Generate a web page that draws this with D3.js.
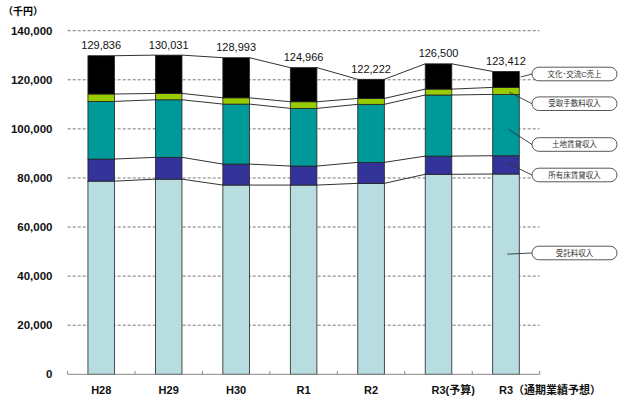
<!DOCTYPE html>
<html>
<head>
<meta charset="utf-8">
<script src="https://cdn.jsdelivr.net/npm/d3@7"></script>
<style>
  body { margin: 0; background: #fff; }
  svg { display: block; font-family: "Liberation Sans", Arial, "Noto Sans CJK JP", sans-serif; }
</style>
</head>
<body>
<div id="chart"></div>
<script>
// categories and values (千円)
const categories = ["H28", "H29", "H30", "R1", "R2", "R3(予算)", "R3（通期業績予想）"];
const totalLabels = ["129,836", "130,031", "128,993", "124,966", "122,222", "126,500", "123,412"];
const seriesNames = ["受託料収入", "所有床賃貸収入", "土地賃貸収入", "受取手数料収入", "文化･交流C売上"];
const itakuryo = [78700, 79500, 77100, 77100, 77800, 81500, 81600];
const shoyuyuka = [9000, 8900, 8550, 7750, 8550, 7400, 7450];
const tochi = [23500, 23450, 24450, 23500, 23650, 24900, 25000];
const tesuryo = [3000, 2600, 2550, 2700, 2400, 2400, 2850];
const bunka = [15600, 15600, 16350, 13900, 7800, 10300, 6500];
const yTicks = [0, 20000, 40000, 60000, 80000, 100000, 120000, 140000];

(function () {
  const width = 620, height = 397;
  const colors = ["#b7dde1", "#333399", "#009999", "#99cc00", "#000000"];
  const seriesValues = [itakuryo, shoyuyuka, tochi, tesuryo, bunka];

  const rows = categories.map((c, i) => {
    const row = { cat: c };
    seriesNames.forEach((s, k) => { row[s] = seriesValues[k][i]; });
    return row;
  });
  const series = d3.stack().keys(seriesNames)(rows);

  const svg = d3.select("#chart").append("svg")
    .attr("width", width)
    .attr("height", height);

  const x = d3.scaleBand()
    .domain(categories)
    .range([67.7, 539.5])
    .paddingInner(0.606)
    .paddingOuter(0.3);
  const y = d3.scaleLinear()
    .domain([0, 140000])
    .range([374.3, 30.7]);
  const bw = x.bandwidth();
  const step = x.step();

  // unit
  svg.append("text")
    .attr("x", 3)
    .attr("y", 14.5)
    .style("font-size", "10px")
    .style("font-weight", "bold")
    .text("（千円）");

  // gridlines
  svg.append("g").selectAll("line")
    .data(yTicks.filter(d => d > 0))
    .enter().append("line")
    .attr("x1", 67.7).attr("x2", 539.5)
    .attr("y1", d => y(d)).attr("y2", d => y(d))
    .attr("stroke", "#555")
    .attr("stroke-width", 0.8)
    .attr("stroke-dasharray", "3,2");

  // y labels
  svg.append("g").selectAll("text")
    .data(yTicks)
    .enter().append("text")
    .attr("x", 52.5)
    .attr("y", d => y(d))
    .attr("dy", "0.36em")
    .attr("text-anchor", "end")
    .style("font-size", "11.5px")
    .style("font-weight", "bold")
    .style("fill", "#111")
    .text(d => d3.format(",")(d));

  // connector lines between bars
  const conn = svg.append("g");
  series.forEach(s => {
    for (let i = 0; i < categories.length - 1; i++) {
      conn.append("line")
        .attr("x1", x(categories[i]) + bw)
        .attr("x2", x(categories[i + 1]))
        .attr("y1", y(s[i][1]))
        .attr("y2", y(s[i + 1][1]))
        .attr("stroke", "#333")
        .attr("stroke-width", 1);
    }
  });

  // bars
  svg.append("g").selectAll("g")
    .data(series)
    .enter().append("g")
    .attr("fill", (d, i) => colors[i])
    .selectAll("rect")
    .data(d => d)
    .enter().append("rect")
    .attr("x", d => x(d.data.cat))
    .attr("width", bw)
    .attr("y", d => y(d[1]))
    .attr("height", d => y(d[0]) - y(d[1]))
    .attr("stroke", "#222")
    .attr("stroke-width", 0.8);

  // totals
  const top = series[series.length - 1];
  svg.append("g").selectAll("text")
    .data(top)
    .enter().append("text")
    .attr("x", d => x(d.data.cat) + bw / 2)
    .attr("y", d => y(d[1]) - 6.5)
    .attr("text-anchor", "middle")
    .style("font-size", "11px")
    .style("fill", "#111")
    .text((d, i) => totalLabels[i]);

  // x axis
  svg.append("line")
    .attr("x1", 67.7).attr("x2", 539.5)
    .attr("y1", 374.3).attr("y2", 374.3)
    .attr("stroke", "#888")
    .attr("stroke-width", 1);
  const bounds = categories.map(c => x(c) + bw / 2 + step / 2);
  bounds.unshift(x(categories[0]) + bw / 2 - step / 2);
  svg.append("g").selectAll("line")
    .data(bounds)
    .enter().append("line")
    .attr("x1", d => d).attr("x2", d => d)
    .attr("y1", 374.3).attr("y2", 371)
    .attr("stroke", "#888");
  svg.append("g").selectAll("text")
    .data(categories)
    .enter().append("text")
    .attr("x", d => d.length > 3 ? x(d) + bw / 2 - 7 : x(d) + bw / 2)
    .attr("y", 394.3)
    .attr("text-anchor", d => d.length > 3 ? "start" : "middle")
    .style("font-size", "11px")
    .style("font-weight", "bold")
    .style("fill", "#111")
    .text(d => d);

  // callouts on the last bar
  const last = categories.length - 1;
  const boxY = [253, 175, 144.5, 103.7, 74];
  const tipFrac = [0.6, 0.6, 0.43, 0.33, 0.65];
  const tipX = [0.55, 0.55, 0.6, 0.62, 1.05];
  const callouts = svg.append("g");
  series.forEach((s, k) => {
    const seg = s[last];
    const ty = y(seg[0] + (seg[1] - seg[0]) * tipFrac[k]);
    const tx = x(categories[last]) + bw * tipX[k];
    callouts.append("line")
      .attr("x1", tx).attr("y1", ty)
      .attr("x2", 532).attr("y2", boxY[k])
      .attr("stroke", "#333")
      .attr("stroke-width", 0.9);
    callouts.append("rect")
      .attr("x", 532)
      .attr("y", boxY[k] - 6.8)
      .attr("width", 85)
      .attr("height", 13.6)
      .attr("rx", 6.8)
      .attr("fill", "#fff")
      .attr("stroke", "#444")
      .attr("stroke-width", 0.9);
    callouts.append("text")
      .attr("x", 574.5)
      .attr("y", boxY[k])
      .attr("dy", "0.35em")
      .attr("text-anchor", "middle")
      .style("font-size", "7.5px")
      .style("fill", "#333")
      .text(seriesNames[k]);
  });
})();
</script>
</body>
</html>
